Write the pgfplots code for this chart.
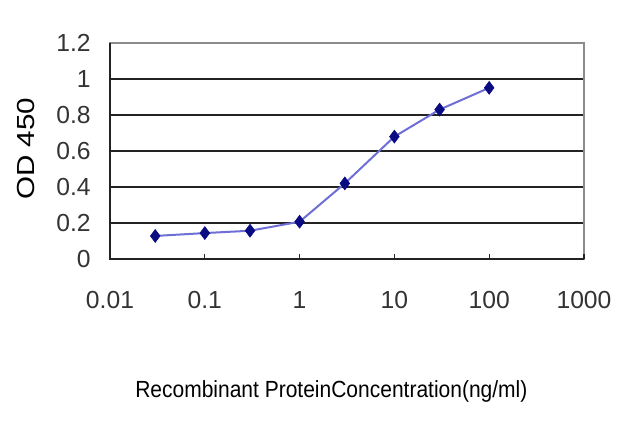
\documentclass[border=0pt]{standalone}
\usepackage{pgfplots}
\pgfplotsset{compat=1.18}
\usepackage{fontspec}
\setmainfont{Liberation Sans}
\usepackage{graphicx}

\definecolor{linecol}{RGB}{110,110,215}
\definecolor{markcol}{RGB}{10,10,130}
\definecolor{gridcol}{RGB}{35,35,35}
\definecolor{framecol}{RGB}{140,140,140}

\begin{document}
\begin{tikzpicture}
\path[use as bounding box] (-82.5pt,-126pt) rectangle (397.5pt,194.25pt);
\begin{axis}[
    scale only axis,
    width=355.5pt,
    height=162pt,
    at={(0,0)},
    anchor=south west,
    xmode=log,
    xmin=0.01, xmax=1000,
    ymin=0, ymax=1.2,
    xtick={0.01,0.1,1,10,100,1000},
    xticklabels={0.01,0.1,1,10,100,1000},
    ytick={0,0.2,0.4,0.6,0.8,1,1.2},
    yticklabels={0,0.2,0.4,0.6,0.8,1,1.2},
    xminorticks=false,
    yminorticks=false,
    xtick pos=bottom,
    ytick pos=left,
    major tick length=0pt,
    minor tick length=0pt,
    ymajorgrids=true,
    grid style={gridcol, line width=1.5pt},
    axis line style={framecol, line width=1pt},
    /pgf/number format/assume math mode=true,
    ticklabel style={font=\fontsize{18.5}{20}\selectfont, text=black!80},
    xticklabel style={anchor=north, yshift=-21pt},
    yticklabel style={anchor=east, xshift=-11pt},
    every axis y label/.style={at={(axis description cs:-0.177,0.51)}, rotate=90, anchor=center},
    every axis x label/.style={at={(axis description cs:0.467,-0.611)}, anchor=center},
    ylabel={\fontsize{18.5}{20}\selectfont\scalebox{1.2}[1]{OD 450}},
    xlabel={\fontsize{17.5}{20}\selectfont\scalebox{0.9}[1]{Recombinant ProteinConcentration(ng/ml)}},
    clip=false,
]
% left and bottom axis lines darker than the frame
\draw[gridcol, line width=1.5pt] (axis cs:0.01,1.2) -- (axis cs:0.01,0) -- (axis cs:1000,0);
% small inward ticks on the x axis
\pgfplotsinvokeforeach{0.1,1,10,100,1000}{
  \draw[gridcol, line width=1pt] (axis cs:#1,0) -- (axis cs:#1,0.028);
}
\addplot[
    color=linecol,
    line width=1.5pt,
    mark=diamond*,
    mark size=4.8pt,
    mark options={fill=markcol, draw=markcol, line width=0.5pt},
    ]
    coordinates {
    (0.03, 0.128)
    (0.1, 0.144)
    (0.3, 0.157)
    (1, 0.207)
    (3, 0.42)
    (10, 0.68)
    (30, 0.83)
    (100, 0.951)
    };
\end{axis}
\end{tikzpicture}
\end{document}
